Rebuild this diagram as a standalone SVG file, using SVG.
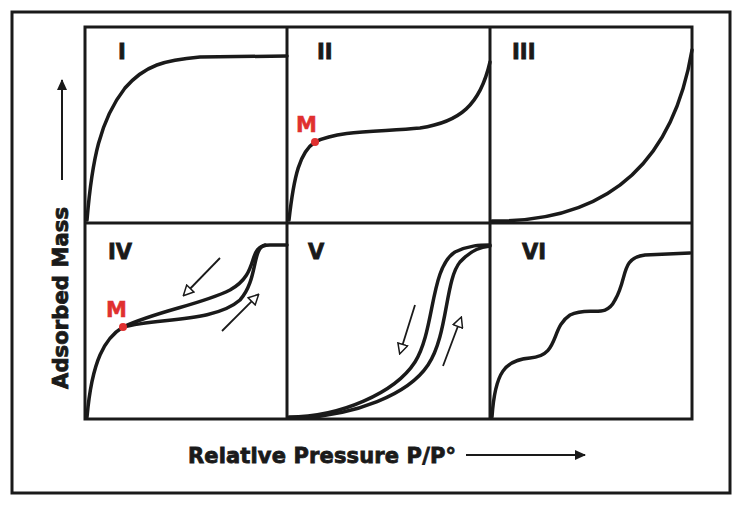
<svg xmlns="http://www.w3.org/2000/svg" width="742" height="505" viewBox="0 0 742 505">
<style>
.c{fill:none;stroke:#1a1a1a;stroke-width:3.5;stroke-linecap:round}
.g{fill:none;stroke:#1a1a1a;stroke-width:3}
.a{stroke:#1a1a1a;stroke-width:1.8;fill:none}
.t{font-family:"DejaVu Sans",sans-serif;font-weight:900;fill:#1a1a1a;stroke:#1a1a1a;stroke-width:0.8}
.m{font-family:"DejaVu Sans",sans-serif;font-weight:bold;fill:#e03030;font-size:21px;stroke:#e03030;stroke-width:0.5}
</style>
<defs>
<marker id="h" markerWidth="12" markerHeight="12" refX="10" refY="6" orient="auto" markerUnits="userSpaceOnUse"><path d="M1,1 L11,6 L1,11 Z" fill="#fff" stroke="#1a1a1a" stroke-width="1.5"/></marker>
<marker id="s" markerWidth="12" markerHeight="12" refX="10" refY="6" orient="auto" markerUnits="userSpaceOnUse"><path d="M0,1 L11,6 L0,11 Z" fill="#1a1a1a"/></marker>
</defs>
<rect x="0" y="0" width="742" height="505" fill="#fff"/>
<rect x="12" y="12" width="718" height="481" fill="none" stroke="#1a1a1a" stroke-width="3"/>
<g id="grid">
<rect class="g" x="85" y="27" width="607" height="392"/>
<line class="g" x1="287" y1="27" x2="287" y2="419"/>
<line class="g" x1="490" y1="27" x2="490" y2="419"/>
<line class="g" x1="85" y1="223" x2="692" y2="223"/>
</g>
<g id="panel-I"><text class="t" x="118" y="59" font-size="21">I</text>
<path class="c" d="M87,220 C92,160 100,120 125,88 C145,65 165,60 200,57 L287,56"/></g>
<g id="panel-II"><text class="t" x="317" y="59" font-size="21">II</text>
<path class="c" d="M289,220 C294,175 300,152 315,142 C340,130 380,132 420,128 C460,122 480,105 490,62"/>
<circle cx="315" cy="142" r="4" fill="#e03030"/><text class="m" x="296" y="132">M</text></g>
<g id="panel-III"><text class="t" x="512" y="59" font-size="21">III</text>
<path class="c" d="M492,221 C590,222 670,180 692,50"/></g>
<g id="panel-IV"><text class="t" x="108" y="259" font-size="21">IV</text>
<path class="c" d="M87,417 C92,360 105,338 123,327 C160,310 200,305 230,290 C262,272 245,245 270,245 L287,245"/>
<path class="c" d="M123,327 C160,318 215,322 240,300 C258,280 252,248 265,245"/>
<circle cx="123" cy="327" r="4" fill="#e03030"/><text class="m" x="106" y="317">M</text>
<line class="a" x1="220" y1="258" x2="184" y2="295" marker-end="url(#h)"/>
<line class="a" x1="222" y1="331" x2="258" y2="295" marker-end="url(#h)"/></g>
<g id="panel-V"><text class="t" x="308" y="259" font-size="21">V</text>
<path class="c" d="M289,417 C340,417 395,393 415,362 C435,330 430,268 455,252 C470,245 480,245 490,245"/>
<path class="c" d="M300,418 C355,415 408,395 428,365 C448,335 445,280 460,262 C472,249 482,247 490,246"/>
<line class="a" x1="415" y1="305" x2="400" y2="353" marker-end="url(#h)"/>
<line class="a" x1="443" y1="366" x2="461" y2="318" marker-end="url(#h)"/></g>
<g id="panel-VI"><text class="t" x="522" y="259" font-size="21">VI</text>
<path class="c" d="M492,417 C495,372 505,360 530,358 C560,356 550,328 570,315 C590,305 605,320 615,300 C628,278 620,258 645,255 L690,253"/></g>
<g id="axes">
<text class="t" font-size="21" textLength="182" transform="translate(68,298) rotate(-90)" text-anchor="middle">Adsorbed Mass</text>
<line x1="62" y1="180" x2="62" y2="80" stroke="#1a1a1a" stroke-width="2" marker-end="url(#s)"/>
<text class="t" font-size="21" x="188" y="463" textLength="268">Relative Pressure P/P°</text>
<line x1="466" y1="455" x2="585" y2="455" stroke="#1a1a1a" stroke-width="2" marker-end="url(#s)"/>
</g>
</svg>
